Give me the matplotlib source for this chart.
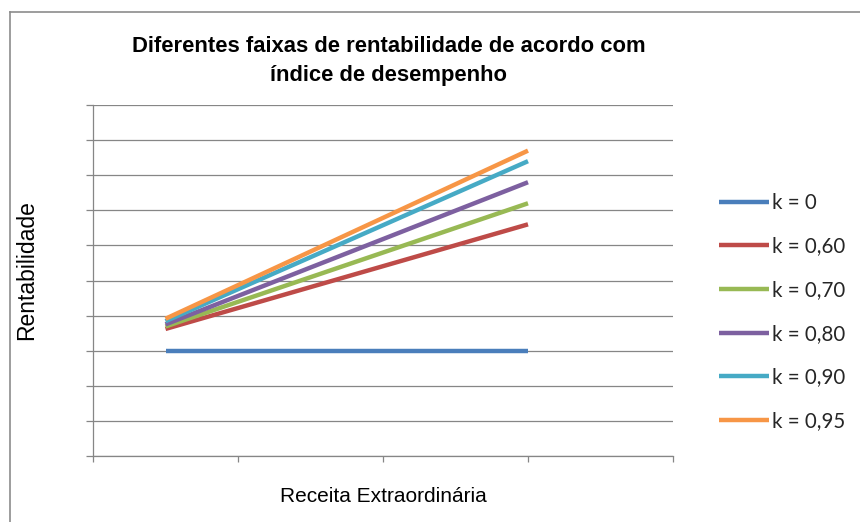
import matplotlib
matplotlib.use("Agg")
import matplotlib.pyplot as plt
from matplotlib.lines import Line2D

# data
x_pos = [0.5, 3.0]
series_labels = ["k = 0", "k = 0,60", "k = 0,70", "k = 0,80", "k = 0,90", "k = 0,95"]
k_0 = [3.0, 3.0]
k_060 = [3.62, 6.60]
k_070 = [3.69, 7.20]
k_080 = [3.75, 7.80]
k_090 = [3.84, 8.40]
k_095 = [3.91, 8.70]
series_values = [k_0, k_060, k_070, k_080, k_090, k_095]
colors = ["#4A7EBB", "#BE4B48", "#98B954", "#7D60A0", "#46AAC5", "#F79646"]

W, H = 860, 522
fig = plt.figure(figsize=(W / 100, H / 100), dpi=100)
fig.patch.set_facecolor("white")

# plot area in pixels: x 93..673, y 105..456
ax = fig.add_axes([93 / W, 1 - 456 / H, (673 - 93) / W, (456 - 105) / H])

for vals, lab, c in zip(series_values, series_labels, colors):
    ax.plot(x_pos, vals, color=c, lw=3.2, label=lab, solid_capstyle="butt")

ax.set_xlim(0, 4)
ax.set_ylim(0, 10)
ax.set_xticks(range(0, 5))
ax.set_yticks(range(0, 11))
ax.set_xticklabels([])
ax.set_yticklabels([])
ax.grid(axis="y", color="#868686", lw=0.9)
ax.set_axisbelow(True)
for s in ["top", "right"]:
    ax.spines[s].set_visible(False)
for s in ["left", "bottom"]:
    ax.spines[s].set_color("#868686")
    ax.spines[s].set_linewidth(0.9)
ax.tick_params(axis="both", direction="out", color="#868686", width=0.9)
ax.tick_params(axis="y", length=5)
ax.tick_params(axis="x", length=4.5)

fig.text(389 / W, 1 - 61 / H,
         "Diferentes faixas de rentabilidade de acordo com\níndice de desempenho",
         ha="center", va="center", fontsize=15.8, fontweight="bold",
         family="Liberation Sans", linespacing=1.5)
fig.text(27 / W, 1 - 270 / H, "Rentabilidade", rotation=90, ha="center", va="center",
         fontsize=16.5, family="Liberation Sans")
fig.text(383 / W, 1 - 497 / H, "Receita Extraordinária", ha="center", va="center",
         fontsize=15, family="Liberation Sans")

leg = fig.legend(loc="center left", bbox_to_anchor=(719 / W, 1 - 312 / H),
                 frameon=False, borderpad=0, borderaxespad=0,
                 handlelength=2.45, handletextpad=0.15, labelspacing=1.15,
                 prop={"family": "Lato", "size": 14.8})
for t in leg.get_texts():
    t.set_color("#262626")

# outer chart border (only top and left visible in the crop)
fig.add_artist(Line2D([10 / W, 1], [1 - 12 / H, 1 - 12 / H], color="#8c8c8c", lw=1.2))
fig.add_artist(Line2D([10 / W, 10 / W], [0, 1 - 12 / H], color="#8c8c8c", lw=1.2))

fig.savefig("out.png", dpi=100)
